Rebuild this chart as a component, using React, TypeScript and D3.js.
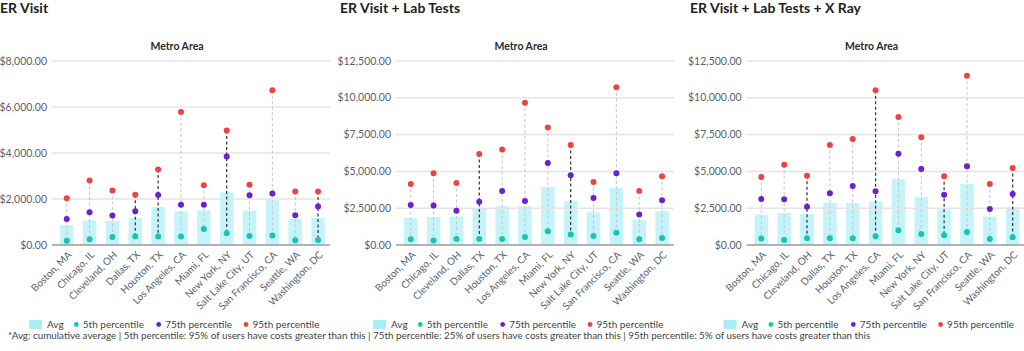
import * as d3 from "d3";

const metros = [
  "Boston, MA",
  "Chicago, IL",
  "Cleveland, OH",
  "Dallas, TX",
  "Houston, TX",
  "Los Angeles, CA",
  "Miami, FL",
  "New York, NY",
  "Salt Lake City, UT",
  "San Francisco, CA",
  "Seattle, WA",
  "Washington, DC",
];

const titles = ["ER Visit", "ER Visit + Lab Tests", "ER Visit + Lab Tests + X Ray"];

// ER Visit
const erAvg = [860, 1070, 1045, 1175, 1650, 1465, 1510, 2290, 1495, 1975, 1130, 1175];
const erP5 = [190, 250, 350, 365, 365, 365, 695, 510, 390, 410, 205, 220];
const erP75 = [1130, 1420, 1280, 1465, 2175, 1755, 1755, 3845, 2160, 2235, 1290, 1670];
const erP95 = [2030, 2800, 2365, 2190, 3280, 5785, 2595, 4975, 2625, 6730, 2325, 2325];
const erDark = ["Dallas, TX", "Houston, TX", "New York, NY", "Washington, DC"];
const erTicks = [0, 2000, 4000, 6000, 8000];

// ER Visit + Lab Tests
const labAvg = [1835, 1900, 1930, 2510, 2630, 2630, 3940, 2990, 2220, 3870, 1725, 2290];
const labP5 = [385, 300, 405, 405, 405, 545, 930, 705, 610, 840, 385, 475];
const labP75 = [2715, 2675, 2335, 2945, 3665, 2990, 5570, 4735, 3190, 4870, 2065, 3035];
const labP95 = [4140, 4870, 4210, 6180, 6480, 9670, 7990, 6790, 4280, 10710, 3665, 4665];
const labDark = ["Dallas, TX", "New York, NY"];
const labTicks = [0, 2500, 5000, 7500, 10000, 12500];

// ER Visit + Lab Tests + X Ray
const xrAvg = [2065, 2175, 2105, 2850, 2850, 2965, 4460, 3260, 2425, 4140, 1930, 2580];
const xrP5 = [435, 340, 455, 455, 455, 590, 1000, 745, 660, 885, 405, 525];
const xrP75 = [3125, 3105, 2605, 3510, 4005, 3645, 6205, 5160, 3420, 5345, 2445, 3465];
const xrP95 = [4615, 5460, 4710, 6790, 7195, 10505, 8690, 7315, 4665, 11500, 4140, 5230];
const xrDark = ["Cleveland, OH", "Los Angeles, CA", "Salt Lake City, UT", "Washington, DC"];
const xrTicks = [0, 2500, 5000, 7500, 10000, 12500];

const FONT = "Lato, 'Open Sans', sans-serif";
const C_BAR = "#c4f4fa";
const C_SWATCH = "#a9eef7";
const C_P5 = "#1cc3b0";
const C_P75 = "#6a22cf";
const C_P95 = "#ef4241";
const C_TICK = "#59626f";

const fmt = (v: number) => "$" + d3.format(",.2f")(v);

interface PanelProps {
  title: string;
  titleX: number;
  left: number;
  avg: number[];
  p5: number[];
  p75: number[];
  p95: number[];
  dark: string[];
  ticks: number[];
}

function Panel({ title, titleX, left, avg, p5, p75, p95, dark, ticks }: PanelProps) {
  const top = 61;
  const bottom = 245;
  const right = left + 278;

  const x = d3
    .scaleBand<string>()
    .domain(metros)
    .range([left + 3.3, left + 3.3 + 274.2])
    .paddingInner(0.4)
    .paddingOuter(0.2);

  const y = d3
    .scaleLinear()
    .domain([0, ticks[ticks.length - 1]])
    .range([bottom, top]);

  const bw = 13.5;
  const cx = (m: string) => (x(m) ?? 0) + x.bandwidth() / 2;

  const legendY = 324.5;
  const lx = left - 23;

  return (
    <g fontFamily={FONT}>
      <text x={titleX} y={13} fontSize={14} fontWeight={700} fill="#222">
        {title}
      </text>
      <text
        x={left + 125}
        y={50}
        fontSize={10.5}
        fontWeight={700}
        fill="#2b2b2b"
        textAnchor="middle"
      >
        Metro Area
      </text>

      {/* bars */}
      {metros.map((m, i) => (
        <rect
          key={"b" + m}
          x={cx(m) - bw / 2}
          y={y(avg[i])}
          width={bw}
          height={bottom - y(avg[i])}
          fill={C_BAR}
        />
      ))}

      {/* gridlines + y labels */}
      {ticks.map((t) => (
        <g key={"t" + t}>
          {t > 0 && (
            <line
              x1={left}
              x2={right}
              y1={y(t)}
              y2={y(t)}
              stroke="#e4e4e4"
              strokeWidth={1.5}
            />
          )}
          <text
            x={left - 5}
            y={y(t)}
            dy="0.35em"
            fontSize={10.5}
            fill={C_TICK}
            textAnchor="end"
          >
            {fmt(t)}
          </text>
        </g>
      ))}
      <line
        x1={left}
        x2={right}
        y1={bottom}
        y2={bottom}
        stroke="#9a9a9a"
        strokeWidth={1.5}
      />

      {/* range lines */}
      {metros.map((m, i) => {
        const isDark = dark.includes(m);
        return (
          <line
            key={"l" + m}
            x1={cx(m)}
            x2={cx(m)}
            y1={y(p95[i])}
            y2={y(p5[i])}
            stroke={isDark ? "#333" : "#c4c4c4"}
            strokeWidth={isDark ? 1.2 : 1}
            strokeDasharray="3,2.5"
          />
        );
      })}

      {/* dots */}
      {metros.map((m, i) => (
        <g key={"d" + m}>
          <circle cx={cx(m)} cy={y(p5[i])} r={3} fill={C_P5} />
          <circle cx={cx(m)} cy={y(p75[i])} r={3} fill={C_P75} />
          <circle cx={cx(m)} cy={y(p95[i])} r={3} fill={C_P95} />
        </g>
      ))}

      {/* x labels */}
      {metros.map((m) => (
        <text
          key={"x" + m}
          transform={`translate(${cx(m) + 3},${bottom + 8}) rotate(-45)`}
          dy="0.35em"
          fontSize={10}
          fill={C_TICK}
          textAnchor="end"
        >
          {m}
        </text>
      ))}

      {/* legend */}
      <rect x={lx} y={legendY - 4.5} width={13} height={9} fill={C_SWATCH} />
      <text x={lx + 18} y={legendY} dy="0.35em" fontSize={10} fill="#444">
        Avg
      </text>
      {[
        { c: C_P5, label: "5th percentile", dx: 47.3 },
        { c: C_P75, label: "75th percentile", dx: 129.7 },
        { c: C_P95, label: "95th percentile", dx: 217 },
      ].map((it) => (
        <g key={it.label}>
          <circle cx={lx + it.dx} cy={legendY} r={2.4} fill={it.c} />
          <text
            x={lx + it.dx + 6.5}
            y={legendY}
            dy="0.35em"
            fontSize={10}
            fill="#444"
          >
            {it.label}
          </text>
        </g>
      ))}
    </g>
  );
}

export default function App() {
  return (
    <svg
      width={1024}
      height={351}
      style={{ position: "absolute", left: 0, top: 0, background: "#fff" }}
    >
      <Panel
        title={titles[0]}
        titleX={0}
        left={52}
        avg={erAvg}
        p5={erP5}
        p75={erP75}
        p95={erP95}
        dark={erDark}
        ticks={erTicks}
      />
      <Panel
        title={titles[1]}
        titleX={340}
        left={396}
        avg={labAvg}
        p5={labP5}
        p75={labP75}
        p95={labP95}
        dark={labDark}
        ticks={labTicks}
      />
      <Panel
        title={titles[2]}
        titleX={690}
        left={746.6}
        avg={xrAvg}
        p5={xrP5}
        p75={xrP75}
        p95={xrP95}
        dark={xrDark}
        ticks={xrTicks}
      />
      <text
        x={8}
        y={336}
        dy="0.35em"
        fontFamily={FONT}
        fontSize={9.85}
        fill="#444"
      >
        *Avg: cumulative average | 5th percentile: 95% of users have costs greater than this | 75th percentile: 25% of users have costs greater than this | 95th percentile: 5% of users have costs greater than this
      </text>
    </svg>
  );
}
